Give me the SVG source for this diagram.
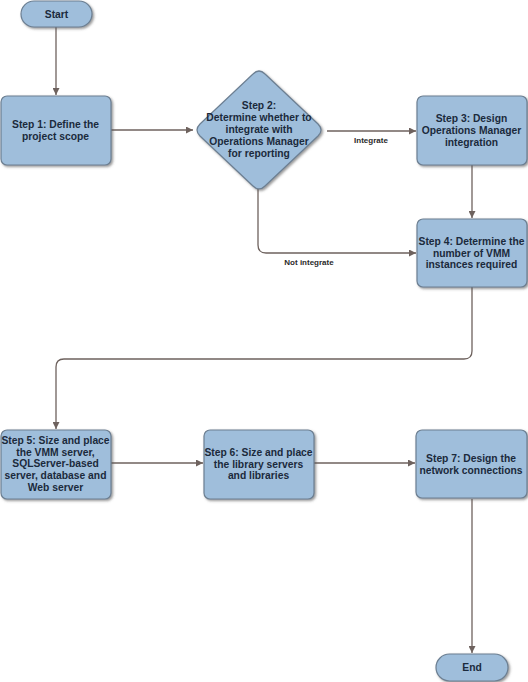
<svg xmlns="http://www.w3.org/2000/svg" width="528" height="682" viewBox="0 0 528 682">
<defs>
<style>
.node{fill:#9fbedb;stroke:#6c7f92;stroke-width:1.2;filter:url(#sh)}
.t{font-family:"Liberation Sans",Arial,sans-serif;font-weight:bold;font-size:10.3px;fill:#1b2a3c;text-anchor:middle}
.lbl{font-family:"Liberation Sans",Arial,sans-serif;font-weight:bold;font-size:8px;fill:#2a2a2a;text-anchor:middle}
.c{fill:none;stroke:#6e625e;stroke-width:1.3;marker-end:url(#ah)}
</style>
<filter id="sh" x="-10%" y="-10%" width="130%" height="130%">
<feDropShadow dx="1.5" dy="1.5" stdDeviation="0.8" flood-color="#555" flood-opacity="0.6"/>
</filter>
<marker id="ah" viewBox="0 0 10 10" refX="10" refY="5" markerWidth="7" markerHeight="7" markerUnits="userSpaceOnUse" orient="auto">
<path d="M0,0 L10,5 L0,10 z" fill="#6e625e"/>
</marker>
</defs>
<rect width="528" height="682" fill="#ffffff"/>
<g id="connectors">
<path class="c" d="M56,27 V95"/>
<path class="c" d="M111,130 H193"/>
<path class="c" d="M327,131 H416"/>
<path class="c" d="M472,165 V218"/>
<path class="c" d="M258,189 V245 Q258,253 266,253 H416"/>
<path class="c" d="M472,287 V351 Q472,359 464,359 H64 Q56,359 56,367 V429"/>
<path class="c" d="M111,463 H203"/>
<path class="c" d="M314,463 H415"/>
<path class="c" d="M472,499 V653"/>
<text class="lbl" x="371" y="143">Integrate</text>
<text class="lbl" x="309" y="265">Not integrate</text>
</g>
<g id="start">
<rect class="node" x="21" y="1" width="71" height="26" rx="13"/>
<text class="t" x="56.5" y="18" font-size="10.5px">Start</text>
</g>
<g id="step1">
<rect class="node" x="1" y="96" width="110" height="69" rx="6"/>
<text class="t" x="55.5" y="128">Step 1: Define the</text>
<text class="t" x="55.5" y="140">project scope</text>
</g>
<g id="step2">
<path class="node" d="M253,74 Q259,68 265,74 L318,124 Q324,130 318,136 L265,186 Q259,192 253,186 L200,136 Q194,130 200,124 Z"/>
<text class="t" x="259" y="109">Step 2:</text>
<text class="t" x="259" y="121">Determine whether to</text>
<text class="t" x="259" y="133">integrate with</text>
<text class="t" x="259" y="145">Operations Manager</text>
<text class="t" x="259" y="157">for reporting</text>
</g>
<g id="step3">
<rect class="node" x="417" y="96" width="110" height="69" rx="6"/>
<text class="t" x="471.5" y="122">Step 3: Design</text>
<text class="t" x="471.5" y="134">Operations Manager</text>
<text class="t" x="471.5" y="146">integration</text>
</g>
<g id="step4">
<rect class="node" x="417" y="219" width="110" height="68" rx="6"/>
<text class="t" x="471.5" y="245">Step 4: Determine the</text>
<text class="t" x="471.5" y="257">number of VMM</text>
<text class="t" x="471.5" y="268">instances required</text>
</g>
<g id="step5">
<rect class="node" x="1" y="430" width="110" height="69" rx="6"/>
<text class="t" x="55.5" y="444">Step 5: Size and place</text>
<text class="t" x="55.5" y="456">the VMM server,</text>
<text class="t" x="55.5" y="467">SQLServer-based</text>
<text class="t" x="55.5" y="479">server, database and</text>
<text class="t" x="55.5" y="491">Web server</text>
</g>
<g id="step6">
<rect class="node" x="204" y="430" width="110" height="69" rx="6"/>
<text class="t" x="258.5" y="456">Step 6: Size and place</text>
<text class="t" x="258.5" y="467.5">the library servers</text>
<text class="t" x="258.5" y="479">and libraries</text>
</g>
<g id="step7">
<rect class="node" x="416" y="430" width="111" height="68" rx="6"/>
<text class="t" x="471" y="462">Step 7: Design the</text>
<text class="t" x="471" y="474">network connections</text>
</g>
<g id="end">
<rect class="node" x="436" y="654" width="72" height="27" rx="13.5"/>
<text class="t" x="472" y="671" font-size="10.5px">End</text>
</g>
</svg>
